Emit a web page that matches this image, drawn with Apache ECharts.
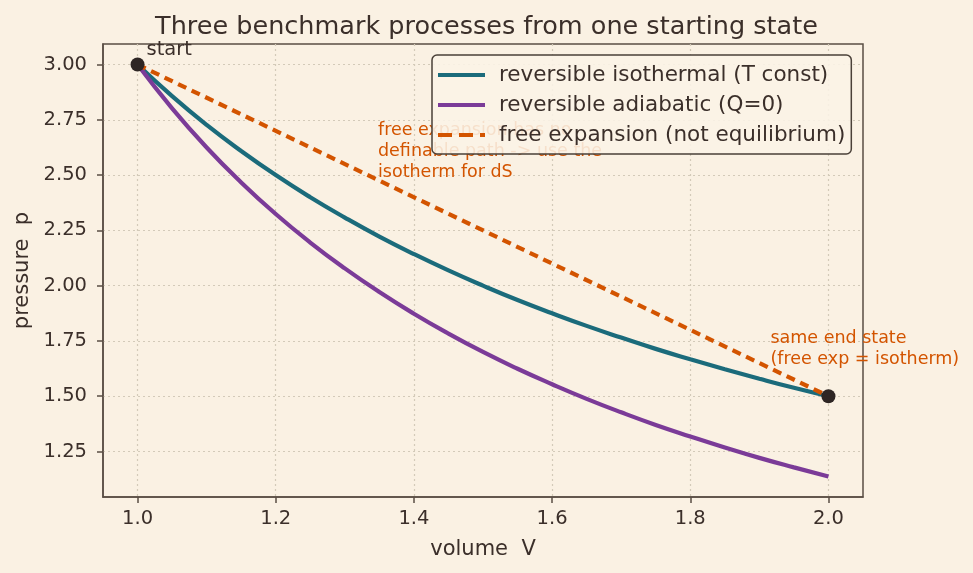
<!DOCTYPE html>
<html>
<head>
<meta charset="utf-8">
<script src="https://cdn.jsdelivr.net/npm/echarts@6/dist/echarts.min.js"></script>
<style>
html, body { margin: 0; padding: 0; background: #faf1e3; }
#chart { width: 973px; height: 573px; }
</style>
</head>
<body>
<div id="chart"></div>
<script>
// volume samples
var volume = [1.00, 1.05, 1.10, 1.15, 1.20, 1.25, 1.30, 1.35, 1.40, 1.45, 1.50,
              1.55, 1.60, 1.65, 1.70, 1.75, 1.80, 1.85, 1.90, 1.95, 2.00];
var isothermal = [3.000, 2.857, 2.727, 2.609, 2.500, 2.400, 2.308, 2.222, 2.143, 2.069, 2.000,
                  1.935, 1.875, 1.818, 1.765, 1.714, 1.667, 1.622, 1.579, 1.538, 1.500];
var adiabatic = [3.000, 2.802, 2.625, 2.467, 2.324, 2.195, 2.078, 1.971, 1.873, 1.783, 1.700,
                 1.624, 1.554, 1.488, 1.427, 1.370, 1.318, 1.268, 1.221, 1.178, 1.137];
var freeV = [1.0, 2.0];
var freeP = [3.0, 1.5];
var endPoints = [[1.0, 3.0], [2.0, 1.5]];
var xTicks = [1.0, 1.2, 1.4, 1.6, 1.8, 2.0];
var yTicks = [1.25, 1.50, 1.75, 2.00, 2.25, 2.50, 2.75, 3.00];
var names = ['reversible isothermal (T const)', 'reversible adiabatic (Q=0)', 'free expansion (not equilibrium)'];

var ink = '#3b2f2a';
var spine = '#5a4e44';
var orange = '#d35400';
var font = 'DejaVu Sans';

// legend swatches: solid bar and dashed bar
var solidIcon = 'path://M0,0h47v4h-47z';
var dashIcon = 'path://M0,0h14v4h-14zM21,0h14v4h-14zM42,0h5v4h-5z';

function pairs(xs, ys) {
    return xs.map(function(x, i) { return [x, ys[i]]; });
}

var chart = echarts.init(document.getElementById('chart'), null, { renderer: 'canvas' });

var option = {
    backgroundColor: '#faf1e3',
    animation: false,
    textStyle: { fontFamily: font, color: ink },
    title: {
        text: 'Three benchmark processes from one starting state',
        left: 'center',
        top: 9,
        textStyle: { fontFamily: font, fontSize: 25.5, fontWeight: 'normal', color: ink }
    },
    grid: {
        left: 103, right: 110, top: 44, bottom: 76,
        show: true, borderColor: spine, borderWidth: 1.5, backgroundColor: '#faf1e3'
    },
    legend: {
        data: [
            { name: names[0], icon: solidIcon },
            { name: names[1], icon: solidIcon },
            { name: names[2], icon: dashIcon }
        ],
        orient: 'vertical',
        left: 432, top: 55,
        padding: [9, 6, 8, 6],
        itemWidth: 47, itemHeight: 4, itemGap: 8,
        backgroundColor: 'rgba(250,243,230,0.88)',
        borderColor: '#4a4038', borderWidth: 1.5, borderRadius: 5,
        textStyle: { fontFamily: font, fontSize: 21.5, lineHeight: 21, color: ink, padding: [0, 0, 0, 9] }
    },
    xAxis: {
        type: 'value', min: 0.95, max: 2.05,
        name: 'volume  V', nameLocation: 'middle', nameGap: 42,
        nameTextStyle: { fontFamily: font, fontSize: 21, color: ink },
        axisLine: { show: true, lineStyle: { color: spine, width: 1.5 } },
        axisTick: { show: true, customValues: xTicks, length: 6, lineStyle: { color: spine, width: 1.5 } },
        axisLabel: { customValues: xTicks, fontFamily: font, fontSize: 19.5, color: ink, margin: 12,
            formatter: function(v) { return v.toFixed(1); } },
        splitLine: { show: true, lineStyle: { color: '#d3cab9', type: [2, 3], width: 1.2 } }
    },
    yAxis: {
        type: 'value', min: 1.044, max: 3.093,
        name: 'pressure  p', nameLocation: 'middle', nameGap: 70, nameRotate: 90,
        nameTextStyle: { fontFamily: font, fontSize: 21, color: ink },
        axisLine: { show: true, lineStyle: { color: spine, width: 1.5 } },
        axisTick: { show: true, customValues: yTicks, length: 6, lineStyle: { color: spine, width: 1.5 } },
        axisLabel: { customValues: yTicks, fontFamily: font, fontSize: 19.5, color: ink, margin: 16,
            formatter: function(v) { return v.toFixed(2); } },
        splitLine: { show: true, lineStyle: { color: '#d3cab9', type: [2, 3], width: 1.2 } }
    },
    series: [
        {
            name: names[0], type: 'line', data: pairs(volume, isothermal),
            smooth: true, symbol: 'none', z: 3,
            lineStyle: { color: '#1b6b7b', width: 4.2 }, itemStyle: { color: '#1b6b7b' }
        },
        {
            name: names[1], type: 'line', data: pairs(volume, adiabatic),
            smooth: true, symbol: 'none', z: 3,
            lineStyle: { color: '#7b3b98', width: 4.2 }, itemStyle: { color: '#7b3b98' }
        },
        {
            name: names[2], type: 'line', data: pairs(freeV, freeP),
            symbol: 'none', z: 3,
            lineStyle: { color: orange, width: 4.2, type: [9, 6] }, itemStyle: { color: orange }
        },
        {
            name: 'states', type: 'scatter', data: endPoints,
            symbolSize: 14, z: 5, itemStyle: { color: '#2e2624', opacity: 1 }
        },
        {
            name: 'notes', type: 'scatter', symbolSize: 0, z: 2, silent: true,
            itemStyle: { opacity: 1 },
            data: [
                { value: [1.0, 3.0], label: { show: true, formatter: 'start', position: [9, -5],
                    align: 'left', verticalAlign: 'bottom', color: ink, fontSize: 19.5 } },
                { value: [1.348, 2.751], label: { show: true,
                    formatter: 'free expansion has no\ndefinable path -> use the\nisotherm for dS',
                    position: [0, 0], align: 'left', verticalAlign: 'top', color: orange,
                    fontSize: 17.5, lineHeight: 21 } },
                { value: [1.916, 1.81], label: { show: true,
                    formatter: 'same end state\n(free exp = isotherm)',
                    position: [0, 0], align: 'left', verticalAlign: 'top', color: orange,
                    fontSize: 17.5, lineHeight: 21 } }
            ],
            label: { fontFamily: font, opacity: 1 }
        }
    ]
};

chart.setOption(option);
</script>
</body>
</html>
